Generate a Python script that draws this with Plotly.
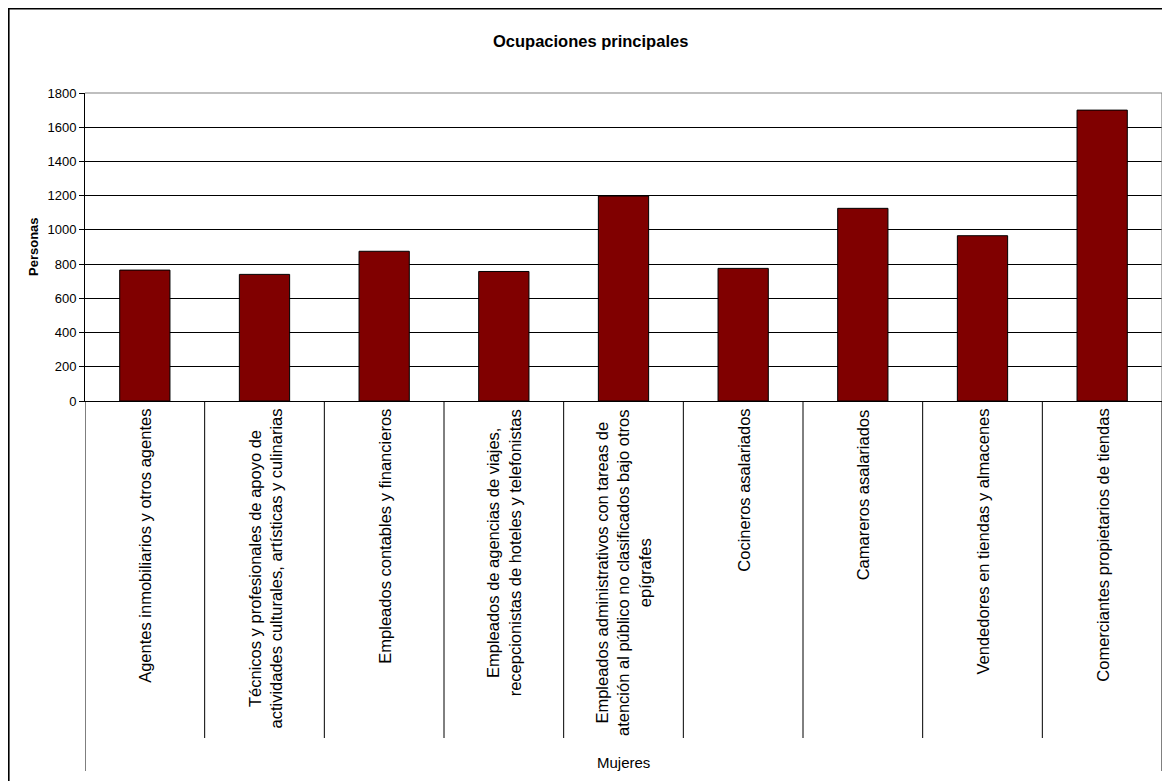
import plotly.graph_objects as go

# ---- data ----
categories = [
    "Agentes inmobiliarios y otros agentes",
    "Técnicos y profesionales de apoyo de<br>actividades culturales, artísticas y culinarias",
    "Empleados contables y financieros",
    "Empleados de agencias de viajes,<br>recepcionistas de hoteles y telefonistas",
    "Empleados administrativos con tareas de<br>atención al público no clasificados bajo otros<br>epígrafes",
    "Cocineros asalariados",
    "Camareros asalariados",
    "Vendedores en tiendas y almacenes",
    "Comerciantes propietarios de tiendas",
]
values = [765, 740, 875, 757, 1198, 775, 1126, 966, 1700]
group_label = "Mujeres"
title_text = "Ocupaciones principales"
y_title = "Personas"
y_ticks = [0, 200, 400, 600, 800, 1000, 1200, 1400, 1600, 1800]

W, H = 1170, 781
OFF = 8  # page body margin
# plot area in page pixels
PL, PR, PT, PB = 85, 1162, 93, 401
L, R, T, B = PL - OFF, PR - OFF, PT - OFF, PB - OFF  # figure pixels


def px_x(x):  # page pixel -> paper
    return (x - OFF - L) / (R - L)


def px_y(y):
    return (B - (y - OFF)) / (B - T)


FONT = "Liberation Sans, Arial, sans-serif"
idx = list(range(len(categories)))

fig = go.Figure()
fig.add_trace(go.Bar(
    x=idx, y=values, width=0.42,
    marker=dict(color="#800000", line=dict(color="#000000", width=1)),
    showlegend=False,
))

shapes = []
# outer chart frame = figure border
shapes.append(dict(type="rect", xref="paper", yref="paper",
                   x0=px_x(OFF + 0.8), x1=px_x(OFF + W - 0.8),
                   y0=px_y(OFF + H - 0.8), y1=px_y(OFF + 0.8),
                   line=dict(color="#000000", width=1.6), layer="below"))
# plot area top/right border (gray)
shapes.append(dict(type="line", xref="paper", yref="paper", x0=0, x1=1, y0=1, y1=1,
                   line=dict(color="#808080", width=1.2), layer="above"))
shapes.append(dict(type="line", xref="paper", yref="paper", x0=1, x1=1, y0=0, y1=1,
                   line=dict(color="#808080", width=1.2), layer="above"))
# category dividers
for i in range(len(categories) - 1):
    shapes.append(dict(type="line", xref="x", yref="paper", x0=i + 0.5, x1=i + 0.5,
                       y0=0, y1=px_y(738), line=dict(color="#000000", width=1)))
# group boundaries
for xv in (-0.5, len(categories) - 0.5):
    shapes.append(dict(type="line", xref="x", yref="paper", x0=xv, x1=xv,
                       y0=0, y1=px_y(771), line=dict(color="#000000", width=1)))

annotations = []
for i, c in enumerate(categories):
    annotations.append(dict(
        x=i, xref="x", y=px_y(407), yref="paper", text=c, showarrow=False,
        textangle=-90, xanchor="center", yanchor="top", align="center",
        font=dict(family=FONT, size=16.5, color="#000000"),
    ))
annotations.append(dict(
    x=0.5, xref="paper", y=px_y(762), yref="paper", text=group_label, showarrow=False,
    xanchor="center", yanchor="middle", font=dict(family=FONT, size=15, color="#000000"),
))
annotations.append(dict(
    x=px_x(590), xref="paper", y=px_y(41), yref="paper", text="<b>" + title_text + "</b>",
    showarrow=False, xanchor="center", yanchor="middle",
    font=dict(family=FONT, size=16.5, color="#000000"),
))
annotations.append(dict(
    x=px_x(33), xref="paper", y=px_y(247), yref="paper", text="<b>" + y_title + "</b>",
    showarrow=False, textangle=-90, xanchor="center", yanchor="middle",
    font=dict(family=FONT, size=13, color="#000000"),
))

fig.update_layout(
    width=W, height=H,
    margin=dict(l=L, r=W - R, t=T, b=H - B, pad=0),
    paper_bgcolor="#ffffff", plot_bgcolor="#ffffff",
    bargap=0.58,
    shapes=shapes, annotations=annotations,
    font=dict(family=FONT, color="#000000"),
)
fig.update_xaxes(
    range=[-0.5, len(categories) - 0.5], showticklabels=False, showgrid=False,
    zeroline=False, showline=True, linecolor="#000000", linewidth=1, ticks="",
)
fig.update_yaxes(
    range=[0, 1800], tickvals=y_ticks, showgrid=True, gridcolor="#000000", gridwidth=1,
    zeroline=False, showline=True, linecolor="#000000", linewidth=1,
    ticks="outside", ticklen=5, tickcolor="#000000",
    tickfont=dict(family=FONT, size=13, color="#000000"),
)

fig.write_html("out.html")
